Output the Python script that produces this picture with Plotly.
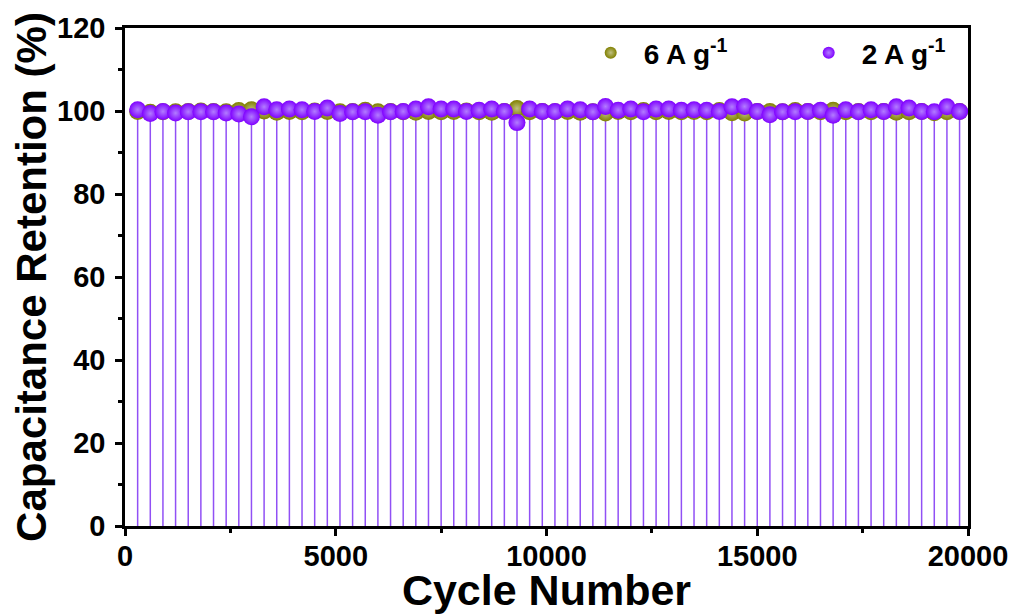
import plotly.graph_objects as go

cycles = [300, 600, 900, 1200, 1500, 1800, 2100, 2400, 2700, 3000, 3300,
          3600, 3900, 4200, 4500, 4800, 5100, 5400, 5700, 6000, 6300, 6600,
          6900, 7200, 7500, 7800, 8100, 8400, 8700, 9000, 9300, 9600, 9900,
          10200, 10500, 10800, 11100, 11400, 11700, 12000, 12300, 12600, 12900, 13200,
          13500, 13800, 14100, 14400, 14700, 15000, 15300, 15600, 15900, 16200, 16500,
          16800, 17100, 17400, 17700, 18000, 18300, 18600, 18900, 19200, 19500, 19800]

retention_2A = [100.3, 99.4, 99.9, 99.5, 99.8, 99.8, 99.8, 99.5, 99.3, 98.6, 101.0,
                100.3, 100.5, 100.3, 99.9, 100.7, 99.4, 99.8, 99.8, 99.0, 99.8, 99.9,
                100.5, 101.0, 100.5, 100.5, 99.9, 100.2, 100.5, 99.9, 97.2, 100.5, 99.9,
                99.9, 100.5, 100.3, 99.8, 101.1, 100.2, 100.5, 99.8, 100.5, 100.5, 100.2,
                100.3, 100.2, 99.9, 101.0, 101.1, 99.9, 99.1, 99.8, 99.8, 99.9, 100.2,
                99.0, 100.3, 99.8, 100.3, 99.9, 101.0, 100.7, 99.9, 99.8, 101.0, 99.9]

retention_6A = [99.9, 99.7, 99.8, 99.8, 99.9, 100.0, 99.9, 99.8, 100.1, 100.3, 100.0,
                99.7, 99.9, 99.8, 100.0, 99.9, 99.8, 99.9, 100.2, 99.8, 99.9, 99.8,
                99.7, 99.9, 99.8, 99.9, 100.0, 99.8, 99.7, 99.9, 100.6, 99.8, 99.9,
                99.8, 99.9, 99.7, 99.8, 99.5, 99.9, 99.8, 100.1, 99.8, 99.9, 99.8,
                99.9, 99.8, 100.1, 99.6, 99.5, 99.9, 99.9, 99.8, 100.1, 99.9, 99.8,
                100.2, 99.8, 99.9, 99.8, 99.9, 99.7, 99.8, 99.9, 99.6, 99.8, 99.9]

series_names = ["6 A g<sup>-1</sup>", "2 A g<sup>-1</sup>"]
x_ticks = [0, 5000, 10000, 15000, 20000]
x_tick_labels = ["0", "5000", "10000", "15000", "20000"]
y_ticks = [0, 20, 40, 60, 80, 100, 120]

PURPLE = "#7f00ff"
OLIVE = "#808000"
FONT = "Liberation Sans, Arial, sans-serif"

fig = go.Figure()

# drop lines of the 2 A g-1 series (error bars reaching down to 0)
fig.add_trace(go.Scatter(
    x=cycles, y=retention_2A, mode="markers",
    marker=dict(size=1, color="rgba(0,0,0,0)"),
    error_y=dict(type="data", symmetric=False, array=[0] * len(cycles),
                 arrayminus=retention_2A, color="#9150f5", thickness=1.5, width=0),
    showlegend=False, hoverinfo="skip"))

fig.add_trace(go.Scatter(
    x=cycles, y=retention_6A, mode="markers", name=series_names[0],
    marker=dict(size=17, color=OLIVE, gradient=dict(type="radial", color="#c0c080"),
                line=dict(width=0))))

fig.add_trace(go.Scatter(
    x=cycles, y=retention_2A, mode="markers", name=series_names[1],
    marker=dict(size=17, color=PURPLE, gradient=dict(type="radial", color="#b27cff"),
                line=dict(width=0))))

axis_common = dict(
    showline=True, linewidth=2.5, linecolor="black", mirror=True,
    ticks="outside", ticklen=7, tickwidth=2.5, tickcolor="black",
    showgrid=False, zeroline=False,
    tickfont=dict(family=FONT, size=29, color="black", weight="bold"),
)

fig.update_xaxes(
    range=[0, 20000], tickvals=x_ticks, ticktext=x_tick_labels, ticklabelstandoff=-5,
    minor=dict(dtick=2500, ticks="outside", ticklen=4, tickwidth=2.5, tickcolor="black"),
    title=dict(text="Cycle Number", standoff=0,
               font=dict(family=FONT, size=43, color="black", weight="bold")),
    **axis_common)

fig.update_yaxes(
    range=[0, 120], tickvals=y_ticks, ticklabelstandoff=4,
    minor=dict(dtick=10, ticks="outside", ticklen=4, tickwidth=2.5, tickcolor="black"),
    title=dict(text="Capacitance Retention (%)", standoff=6,
               font=dict(family=FONT, size=42, color="black", weight="bold")),
    **axis_common)

fig.update_layout(
    width=1012, height=606,
    margin=dict(l=117, r=52, t=20, b=88, autoexpand=False),
    plot_bgcolor="white", paper_bgcolor="white",
    legend=dict(orientation="h", x=0.537, xanchor="left", y=1.0, yanchor="top",
                bgcolor="rgba(0,0,0,0)", entrywidth=147, entrywidthmode="pixels",
                itemwidth=56,
                font=dict(family=FONT, size=28, color="black", weight="bold"),
                itemsizing="constant"),
)

fig.write_html("out.html")
